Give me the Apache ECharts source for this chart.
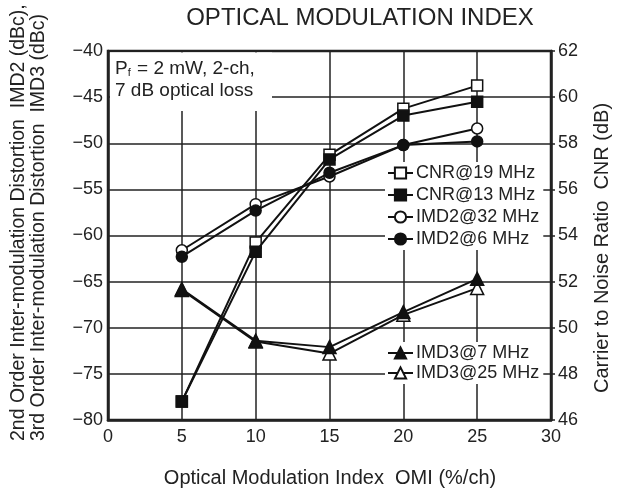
<!DOCTYPE html>
<html>
<head>
<meta charset="utf-8">
<script src="https://cdn.jsdelivr.net/npm/echarts@6/dist/echarts.min.js"></script>
<style>
  html, body { margin: 0; padding: 0; background: #fff; }
  #main { width: 620px; height: 494px; }
</style>
</head>
<body>
<div id="main"></div>
<script>
// x values (OMI %/ch)
const omi = [5, 10, 15, 20, 25];

// CNR (dB), right axis
const cnr19 = [46.8, 53.7, 57.5, 59.5, 60.5];
const cnr13 = [46.8, 53.3, 57.3, 59.2, 59.8];

// IMD2 (dBc), left axis
const imd2_32 = [-61.6, -56.6, -53.6, -50.2, -48.4];
const imd2_6 = [-62.3, -57.3, -53.2, -50.2, -49.8];

// IMD3 (dBc), left axis
const imd3_7 = [-65.8, -71.4, -72.1, -68.3, -64.7];
const imd3_25 = [-65.9, -71.5, -72.8, -68.6, -65.7];

const font = '"Liberation Sans", Arial, sans-serif';

function pairs(ys) {
    return omi.map((x, i) => [x, ys[i]]);
}

function mkSeries(name, ys, axis, symbol, size, filled) {
    return {
        name: name,
        type: 'line',
        yAxisIndex: axis,
        data: pairs(ys),
        symbol: symbol,
        symbolSize: size,
        showAllSymbol: true,
        lineStyle: { color: '#111', width: 2 },
        itemStyle: {
            color: filled ? '#111' : '#fff',
            borderColor: '#111',
            borderWidth: 1.5
        },
        // filled markers sit on top of the open ones
        z: filled ? 4 : 3
    };
}

const chart = echarts.init(document.getElementById('main'));

const legendText = { fontFamily: font, fontSize: 18, color: '#222', padding: [0, 0, 0, -2] };

const option = {
    animation: false,
    backgroundColor: '#fff',
    title: {
        text: 'OPTICAL MODULATION INDEX',
        left: 355,
        textAlign: 'center',
        top: 1,
        textStyle: { fontFamily: font, fontSize: 24, fontWeight: 'normal', color: '#222' }
    },
    grid: {
        left: 108, right: 69, top: 51, bottom: 74,
        show: true, borderColor: '#222', borderWidth: 2.5, backgroundColor: 'transparent'
    },
    legend: [
        {
            orient: 'vertical',
            left: 385, top: 162,
            itemWidth: 25, itemHeight: 14, itemGap: 4,
            backgroundColor: '#fff',
            padding: [2, 4, 2, 2],
            textStyle: legendText,
            data: ['CNR@19 MHz', 'CNR@13 MHz', 'IMD2@32 MHz', 'IMD2@6 MHz']
        },
        {
            orient: 'vertical',
            left: 385, top: 342,
            itemWidth: 25, itemHeight: 14, itemGap: 2,
            backgroundColor: '#fff',
            padding: [2, 4, 2, 2],
            textStyle: legendText,
            data: ['IMD3@7 MHz', 'IMD3@25 MHz']
        }
    ],
    xAxis: {
        type: 'value',
        min: 0, max: 30, interval: 5,
        axisLine: { lineStyle: { color: '#222', width: 2.5 } },
        axisTick: { show: false },
        axisLabel: { fontFamily: font, fontSize: 18, color: '#222', margin: 8 },
        splitLine: { show: true, lineStyle: { color: '#222', width: 1.5 } }
    },
    yAxis: [
        {
            type: 'value',
            min: -80, max: -40, interval: 5,
            axisLine: { show: true, lineStyle: { color: '#222', width: 2.5 } },
            axisTick: { show: false },
            axisLabel: {
                fontFamily: font, fontSize: 18, color: '#222', margin: 5,
                formatter: v => String(v).replace('-', '\u2212')
            },
            splitLine: { show: true, lineStyle: { color: '#222', width: 1.5 } }
        },
        {
            type: 'value',
            min: 46, max: 62, interval: 2,
            position: 'right',
            axisLine: { show: true, lineStyle: { color: '#222', width: 2.5 } },
            axisTick: { show: true, inside: false, length: 4, lineStyle: { color: '#222', width: 1.5 } },
            axisLabel: { fontFamily: font, fontSize: 18, color: '#222', margin: 7 },
            splitLine: { show: false }
        }
    ],
    graphic: [
        // white patch behind annotation (hides grid lines there)
        {
            type: 'rect', z: 5,
            shape: { x: 110, y: 52.5, width: 162, height: 58.5 },
            style: { fill: '#fff' }
        },
        {
            type: 'text', z: 6, left: 115, top: 59,
            style: {
                text: '{a|P}{s|f}{a| = 2 mW, 2-ch,}\n{a|7 dB optical loss}',
                rich: {
                    a: { fontFamily: font, fontSize: 19, fill: '#222', lineHeight: 22 },
                    s: { fontFamily: font, fontSize: 11, fill: '#222', lineHeight: 22, padding: [8, 1, 0, 0] }
                }
            }
        },
        // left axis names (two lines, rotated)
        {
            type: 'text', z: 6, x: 19, y: 441, rotation: Math.PI / 2,
            style: {
                text: '2nd Order Inter-modulation Distortion  IMD2 (dBc),',
                font: '19.5px ' + font, fill: '#222', align: 'left', verticalAlign: 'middle'
            }
        },
        {
            type: 'text', z: 6, x: 39, y: 441, rotation: Math.PI / 2,
            style: {
                text: '3rd Order Inter-modulation Distortion  IMD3 (dBc)',
                font: '19.5px ' + font, fill: '#222', align: 'left', verticalAlign: 'middle'
            }
        },
        // right axis name
        {
            type: 'text', z: 6, x: 602, y: 393, rotation: Math.PI / 2,
            style: {
                text: 'Carrier to Noise Ratio  CNR (dB)',
                font: '20px ' + font, fill: '#222', align: 'left', verticalAlign: 'middle'
            }
        },
        // x axis name
        {
            type: 'text', z: 6, x: 330, y: 478,
            style: {
                text: 'Optical Modulation Index  OMI (%/ch)',
                font: '20px ' + font, fill: '#222', align: 'center', verticalAlign: 'middle'
            }
        }
    ],
    series: [
        mkSeries('CNR@19 MHz', cnr19, 1, 'rect', 11, false),
        mkSeries('CNR@13 MHz', cnr13, 1, 'rect', 11, true),
        mkSeries('IMD2@32 MHz', imd2_32, 0, 'circle', 11, false),
        mkSeries('IMD2@6 MHz', imd2_6, 0, 'circle', 11, true),
        mkSeries('IMD3@7 MHz', imd3_7, 0, 'triangle', 13, true),
        mkSeries('IMD3@25 MHz', imd3_25, 0, 'triangle', 13, false)
    ]
};

chart.setOption(option);
</script>
</body>
</html>
